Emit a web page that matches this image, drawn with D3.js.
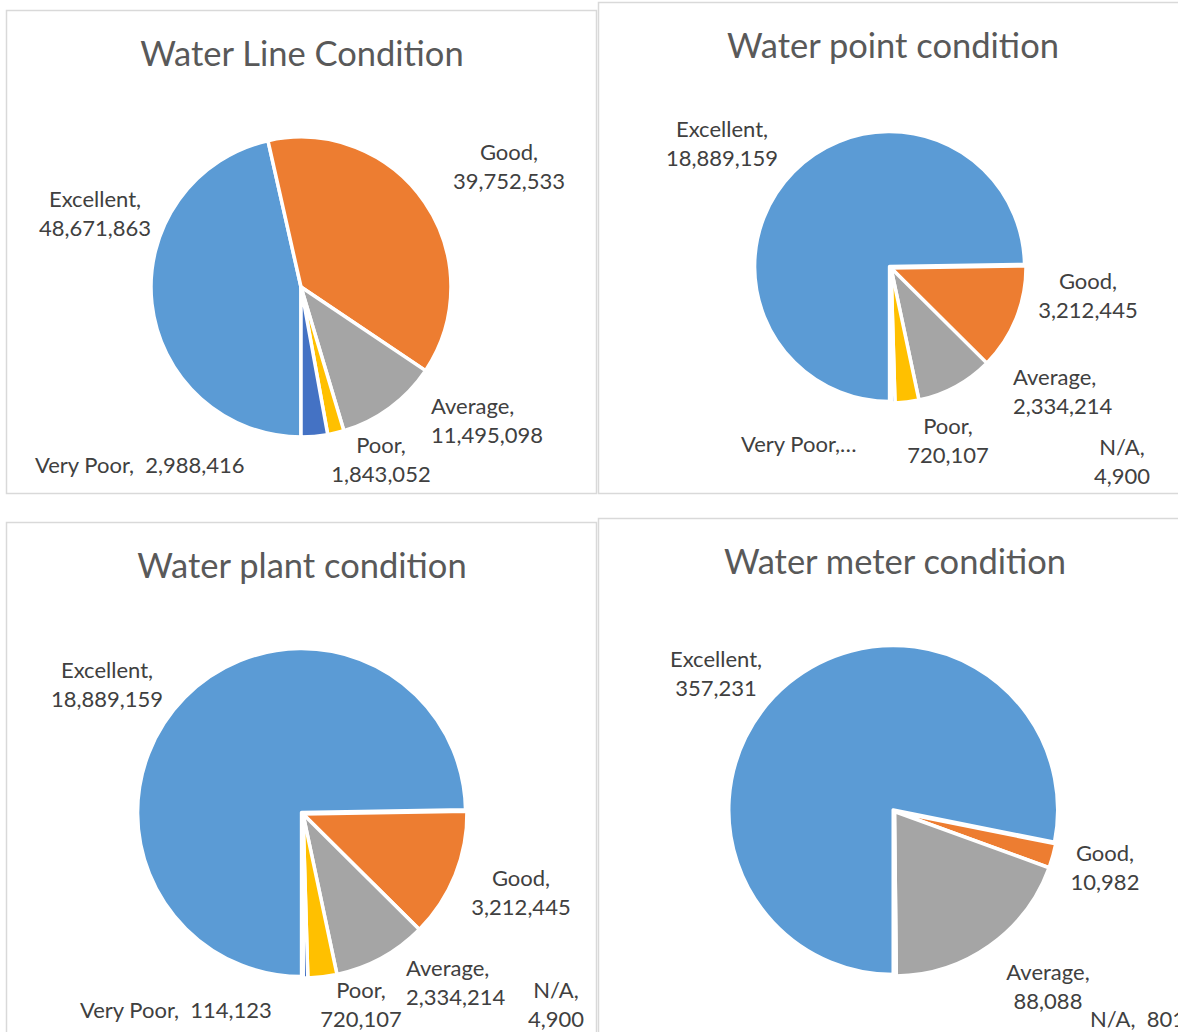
<!DOCTYPE html>
<html>
<head>
<meta charset="utf-8">
<script src="https://cdn.jsdelivr.net/npm/d3@7"></script>
<style>
  html, body { margin: 0; padding: 0; background: #ffffff; }
  svg { display: block; }
  text { font-family: Lato, "Open Sans", sans-serif; white-space: pre; }
</style>
</head>
<body>
<svg id="chart" width="1178" height="1032"></svg>
<script>
// Condition categories, in the order the slices are laid out
const categories = ["Excellent", "Good", "Average", "Poor", "Very Poor", "N/A"];
const sliceColors = ["#5B9BD5", "#ED7D31", "#A5A5A5", "#FFC000", "#4472C4", "#70AD47"];

const chartTitles = [
  "Water Line Condition",
  "Water point condition",
  "Water plant condition",
  "Water meter condition"
];

// Asset counts per condition (null = category not reported)
const waterLineValues  = [48671863, 39752533, 11495098, 1843052, 2988416, null];
const waterPointValues = [18889159, 3212445, 2334214, 720107, 114123, 4900];
const waterPlantValues = [18889159, 3212445, 2334214, 720107, 114123, 4900];
const waterMeterValues = [357231, 10982, 88088, null, null, 801];

// Panel geometry and label placement
const panels = [
  {
    values: waterLineValues,
    frame: [6.5, 10.5, 590, 483], cx: 301, cy: 287, r: 150, titleY: 66, titleX: 302, explode: 0,
    labels: {
      "Excellent": { x: 95,  y: 207, anchor: "middle", mode: "two" },
      "Good":      { x: 509, y: 160, anchor: "middle", mode: "two" },
      "Average":   { x: 431, y: 414, anchor: "start",  mode: "two" },
      "Poor":      { x: 381, y: 453, anchor: "middle", mode: "two" },
      "Very Poor": { x: 35,  y: 473, anchor: "start",  mode: "one" }
    }
  },
  {
    values: waterPointValues,
    frame: [598.5, 2.5, 620, 491], cx: 891, cy: 268, r: 135, titleY: 58, titleX: 893, explode: 2,
    labels: {
      "Excellent": { x: 722,  y: 137, anchor: "middle", mode: "two" },
      "Good":      { x: 1088, y: 289, anchor: "middle", mode: "two" },
      "Average":   { x: 1013, y: 385, anchor: "start",  mode: "two" },
      "Poor":      { x: 948,  y: 434, anchor: "middle", mode: "two" },
      "Very Poor": { x: 741,  y: 452, anchor: "start",  mode: "cut" },
      "N/A":       { x: 1122, y: 455, anchor: "middle", mode: "two" }
    }
  },
  {
    values: waterPlantValues,
    frame: [6.5, 522.5, 590, 600], cx: 303, cy: 814, r: 164, titleY: 578, titleX: 302, explode: 2,
    labels: {
      "Excellent": { x: 107, y: 678, anchor: "middle", mode: "two" },
      "Good":      { x: 521, y: 886, anchor: "middle", mode: "two" },
      "Average":   { x: 406, y: 976, anchor: "start",  mode: "two" },
      "Poor":      { x: 361, y: 998, anchor: "middle", mode: "two" },
      "Very Poor": { x: 80,  y: 1018, anchor: "start", mode: "one" },
      "N/A":       { x: 556, y: 998, anchor: "middle", mode: "two" }
    }
  },
  {
    values: waterMeterValues,
    frame: [598.5, 518.5, 620, 600], cx: 894.5, cy: 811.5, r: 164.5, titleY: 574, titleX: 895, explode: 2,
    labels: {
      "Excellent": { x: 716,  y: 667, anchor: "middle", mode: "two" },
      "Good":      { x: 1105, y: 861, anchor: "middle", mode: "two" },
      "Average":   { x: 1048, y: 980, anchor: "middle", mode: "two" },
      "N/A":       { x: 1090, y: 1027, anchor: "start", mode: "one" }
    }
  }
];

const svg = d3.select("#chart");
const fmt = d3.format(",");
const color = d3.scaleOrdinal().domain(categories).range(sliceColors);

const pie = d3.pie()
  .sort(null)
  .value(d => d.value)
  .startAngle(Math.PI)
  .endAngle(3 * Math.PI);

const TITLE_SIZE = 34.5;
const LABEL_SIZE = 22;
const LINE_GAP = 29;

panels.forEach((p, i) => {
  const g = svg.append("g");

  // chart frame
  g.append("rect")
    .attr("x", p.frame[0]).attr("y", p.frame[1])
    .attr("width", p.frame[2]).attr("height", p.frame[3])
    .attr("fill", "#ffffff")
    .attr("stroke", "#d9d9d9")
    .attr("stroke-width", 1.5);

  // title
  g.append("text")
    .attr("x", p.titleX).attr("y", p.titleY)
    .attr("text-anchor", "middle")
    .attr("font-size", TITLE_SIZE)
    .attr("fill", "#595959")
    .text(chartTitles[i]);

  const data = categories
    .map((c, k) => ({ category: c, value: p.values[k] }))
    .filter(d => d.value !== null);

  const arc = d3.arc().innerRadius(0).outerRadius(p.r);
  const arcs = pie(data);

  const pieG = g.append("g").attr("transform", `translate(${p.cx},${p.cy})`);
  pieG.selectAll("path")
    .data(arcs)
    .join("path")
    .attr("d", arc)
    .attr("transform", d => {
      if (d.data.category !== "Excellent" || !p.explode) return null;
      const mid = (d.startAngle + d.endAngle) / 2;
      return `translate(${Math.sin(mid) * p.explode},${-Math.cos(mid) * p.explode})`;
    })
    .attr("fill", d => color(d.data.category))
    .attr("stroke", "#ffffff")
    .attr("stroke-width", 3.5)
    .attr("stroke-linejoin", "round");

  // data labels: category name and value
  data.forEach(d => {
    const spec = p.labels[d.category];
    if (!spec) return;
    const t = g.append("text")
      .attr("x", spec.x).attr("y", spec.y)
      .attr("text-anchor", spec.anchor)
      .attr("font-size", LABEL_SIZE)
      .attr("fill", "#404040");
    if (spec.mode === "two") {
      t.append("tspan").attr("x", spec.x).text(`${d.category},`);
      t.append("tspan").attr("x", spec.x).attr("dy", LINE_GAP).text(fmt(d.value));
    } else if (spec.mode === "one") {
      t.text(`${d.category},  ${fmt(d.value)}`);
    } else {
      t.text(`${d.category},\u2026`);
    }
  });
});
</script>
</body>
</html>
